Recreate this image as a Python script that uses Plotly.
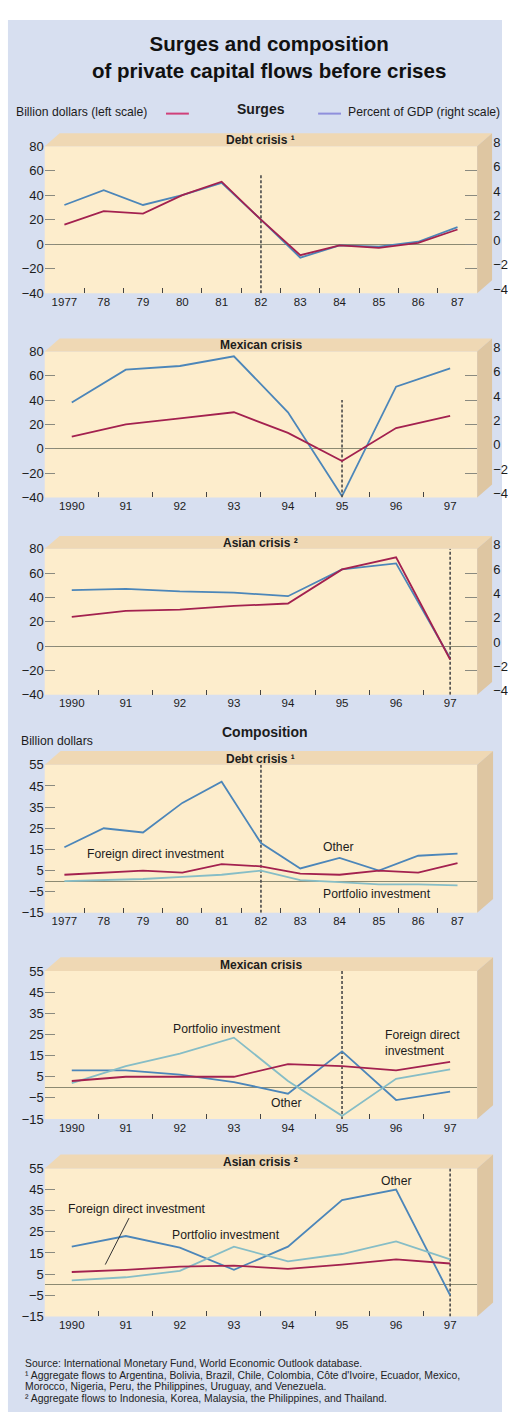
import plotly.graph_objects as go

# ---------------- data ----------------
debt_years = ["1977", "78", "79", "80", "81", "82", "83", "84", "85", "86", "87"]
late_years = ["1990", "91", "92", "93", "94", "95", "96", "97"]

# Surges: billion dollars (left scale) and percent of GDP (right scale)
debt_surge_bn = [16, 27, 25, 40, 51, 20, -9, -1, -3, 1, 12]
debt_surge_pct = [3.2, 4.4, 3.2, 4.0, 5.0, 2.0, -1.1, -0.1, -0.2, 0.2, 1.4]
mex_surge_bn = [10, 20, 25, 30, 13, -10, 17, 27]
mex_surge_pct = [3.8, 6.5, 6.8, 7.6, 3.0, -3.9, 5.1, 6.6]
asia_surge_bn = [24, 29, 30, 33, 35, 63, 73, -11]
asia_surge_pct = [4.6, 4.7, 4.5, 4.4, 4.1, 6.3, 6.8, -1.0]

# Composition: billion dollars
debt_fdi = [3, 4, 5, 4, 8, 7, 3.5, 3, 5, 4, 8.5]
debt_portfolio = [0, 0.5, 1, 2, 3, 5, 0.5, -0.5, -1.5, -1.5, -2]
debt_other = [16, 25, 23, 37, 47, 18, 6, 11, 5, 12, 13]
mex_fdi = [3, 5, 5, 5, 11, 10, 8, 12]
mex_portfolio = [2, 10, 16, 23.5, 3, -13.5, 4, 8.5]
mex_other = [8, 8, 6, 2.5, -3, 17, -6, -2]
asia_fdi = [6, 7, 8.5, 9, 7.5, 9.5, 12, 10]
asia_portfolio = [2, 3.5, 6.5, 18, 11, 14.5, 20.5, 12]
asia_other = [18, 23, 17.5, 7, 18, 40, 45, -5]

# crisis year marked in each panel and the vertical extent of its marker
crisis_years = ["82", "95", "97", "82", "95", "97"]
crisis_extent = [(-40, 57), (-40, 40), (-40, 80), (-15, 55), (-15, 55), (-15, 55)]

surge_bn_ticks = [-40, -20, 0, 20, 40, 60, 80]
surge_pct_ticks = [-4, -2, 0, 2, 4, 6, 8]
comp_ticks = [-15, -5, 5, 15, 25, 35, 45, 55]

# ---------------- styling ----------------
FONT = "Liberation Sans, Arial, sans-serif"
INK = "#1c1c1c"
RED = "#a3214f"
BLUE = "#4c86b9"
TEAL = "#86bdc6"
FACE = "#fdedcc"
TOP = "#efd8b4"
SIDE = "#dec6a2"
PANEL_BG = "#d7dff0"
ZERO = "#8c8a72"
TICK = "#8a8a80"

W, H = 508, 1427
PLOT_L, PLOT_R = 45, 480


def fx(px):
    return px / W


def fy(py):
    return 1 - py / H


def ax_id(i):
    return "" if i == 1 else str(i)


panels = [
    dict(kind="surge", box=(137, 286), depth=(15, 13), cats=debt_years,
         bn=debt_surge_bn, pct=debt_surge_pct, title="Debt crisis \u00b9"),
    dict(kind="surge", box=(345, 493), depth=(15, 13), cats=late_years,
         bn=mex_surge_bn, pct=mex_surge_pct, title="Mexican crisis"),
    dict(kind="surge", box=(545, 693), depth=(15, 13), cats=late_years,
         bn=asia_surge_bn, pct=asia_surge_pct, title="Asian crisis \u00b2"),
    dict(kind="comp", box=(764, 914), depth=(16, 14), cats=debt_years,
         fdi=debt_fdi, portfolio=debt_portfolio, other=debt_other,
         title="Debt crisis \u00b9",
         labels=[("Foreign direct investment", 2.33, 12.7, "center"),
                 ("Other", 6.96, 16, "center"),
                 ("Portfolio investment", 7.95, -6, "center")]),
    dict(kind="comp", box=(973, 1123), depth=(16, 14), cats=late_years,
         fdi=mex_fdi, portfolio=mex_portfolio, other=mex_other,
         title="Mexican crisis",
         labels=[("Portfolio investment", 2.88, 27.6, "center"),
                 ("Foreign direct<br>investment", 5.75, 21, "left"),
                 ("Other", 3.97, -7.5, "center")]),
    dict(kind="comp", box=(1173, 1323), depth=(16, 14), cats=late_years,
         fdi=asia_fdi, portfolio=asia_portfolio, other=asia_other,
         title="Asian crisis \u00b2",
         labels=[("Foreign direct investment", -0.1, 36, "left"),
                 ("Portfolio investment", 2.85, 23.7, "center"),
                 ("Other", 5.99, 49, "center")],
         leader=(1.06, 31.5, 0.62, 9.5)),
]

fig = go.Figure()
layout = {}
shapes = []
annotations = []

# lavender page panel
shapes.append(dict(type="rect", xref="paper", yref="paper", x0=fx(8), x1=fx(505),
                   y0=fy(1420), y1=fy(9), fillcolor=PANEL_BG, line_width=0, layer="below"))

for i, p in enumerate(panels, start=1):
    top, bot = p["box"]
    dx, dy = p["depth"]
    n = len(p["cats"])
    xid, yid = "x" + ax_id(i), "y" + ax_id(i)

    # box faces: front, top and right side
    shapes.append(dict(type="rect", xref="paper", yref="paper", x0=fx(PLOT_L), x1=fx(PLOT_R),
                       y0=fy(bot), y1=fy(top), fillcolor=FACE, line_width=0, layer="below"))
    top_path = "M {:.5f},{:.5f} L {:.5f},{:.5f} L {:.5f},{:.5f} L {:.5f},{:.5f} Z".format(
        fx(PLOT_L), fy(top), fx(PLOT_R), fy(top), fx(PLOT_R + dx), fy(top - dy), fx(PLOT_L + dx), fy(top - dy))
    side_path = "M {:.5f},{:.5f} L {:.5f},{:.5f} L {:.5f},{:.5f} L {:.5f},{:.5f} Z".format(
        fx(PLOT_R), fy(top), fx(PLOT_R + dx), fy(top - dy), fx(PLOT_R + dx), fy(bot - dy), fx(PLOT_R), fy(bot))
    shapes.append(dict(type="path", path=top_path, xref="paper", yref="paper",
                       fillcolor=TOP, line_width=0, layer="below"))
    shapes.append(dict(type="path", path=side_path, xref="paper", yref="paper",
                       fillcolor=SIDE, line_width=0, layer="below"))

    layout["xaxis" + ax_id(i)] = dict(
        domain=[fx(PLOT_L), fx(PLOT_R)], anchor=yid, type="category",
        categoryorder="array", categoryarray=p["cats"], range=[-0.5, n - 0.5],
        tickson="boundaries", ticks="inside", ticklen=5, tickwidth=1, tickcolor="#444",
        showgrid=False, zeroline=False, showline=False,
        tickfont=dict(size=11.5, color=INK), fixedrange=True)

    c0, c1 = crisis_extent[i - 1]
    crisis_line = dict(x=[crisis_years[i - 1]] * 2, y=[c0, c1], xaxis=xid, mode="lines",
                       line=dict(color="#4a4a4a", width=1.6, dash="3px,2px"),
                       showlegend=False, hoverinfo="skip", name="Crisis year")

    if p["kind"] == "surge":
        oid = "y" + str(6 + i)
        # right scale: percent of GDP
        layout["yaxis" + ax_id(i)] = dict(
            domain=[fy(bot), fy(top)], anchor=xid, side="right", range=[-4, 8],
            tickvals=surge_pct_ticks, ticks="inside", ticklen=12, tickcolor=TICK,
            ticklabelstandoff=15, ticklabelshift=-4,
            showgrid=False, showline=False, zeroline=True, zerolinecolor=ZERO, zerolinewidth=1.2,
            tickfont=dict(size=13, color=INK), fixedrange=True)
        # left scale: billion dollars
        layout["yaxis" + str(6 + i)] = dict(
            overlaying=yid, anchor=xid, side="left", range=[-40, 80],
            tickvals=surge_bn_ticks, ticks="inside", ticklen=10, tickcolor=TICK,
            showgrid=False, showline=False, zeroline=False,
            tickfont=dict(size=13, color=INK), fixedrange=True)
        fig.add_trace(go.Scatter(x=p["cats"], y=p["pct"], xaxis=xid, yaxis=yid, mode="lines",
                                 line=dict(color=BLUE, width=1.8), showlegend=False,
                                 name="Percent of GDP"))
        fig.add_trace(go.Scatter(yaxis=oid, **crisis_line))
        fig.add_trace(go.Scatter(x=p["cats"], y=p["bn"], xaxis=xid, yaxis=oid, mode="lines",
                                 line=dict(color=RED, width=1.8), showlegend=False,
                                 name="Billion dollars"))
    else:
        layout["yaxis" + ax_id(i)] = dict(
            domain=[fy(bot), fy(top)], anchor=xid, range=[-15, 55],
            tickvals=comp_ticks, ticks="inside", ticklen=10, tickcolor=TICK,
            showgrid=False, showline=False, zeroline=True, zerolinecolor=ZERO, zerolinewidth=1.2,
            tickfont=dict(size=13, color=INK), fixedrange=True)
        fig.add_trace(go.Scatter(yaxis=yid, **crisis_line))
        fig.add_trace(go.Scatter(x=p["cats"], y=p["other"], xaxis=xid, yaxis=yid, mode="lines",
                                 line=dict(color=BLUE, width=1.8), showlegend=False, name="Other"))
        fig.add_trace(go.Scatter(x=p["cats"], y=p["portfolio"], xaxis=xid, yaxis=yid, mode="lines",
                                 line=dict(color=TEAL, width=1.8), showlegend=False,
                                 name="Portfolio investment"))
        fig.add_trace(go.Scatter(x=p["cats"], y=p["fdi"], xaxis=xid, yaxis=yid, mode="lines",
                                 line=dict(color=RED, width=1.8), showlegend=False,
                                 name="Foreign direct investment"))
        for text, lx, ly, align in p["labels"]:
            annotations.append(dict(text=text, x=lx, y=ly, xref=xid, yref=yid, showarrow=False,
                                    xanchor=align, yanchor="middle", align="left",
                                    font=dict(size=12.2, color=INK)))
        if "leader" in p:
            x0, y0, x1, y1 = p["leader"]
            shapes.append(dict(type="line", xref=xid, yref=yid, x0=x0, y0=y0, x1=x1, y1=y1,
                               line=dict(color="#333", width=1)))

    # panel heading on the top face
    annotations.append(dict(text="<b>" + p["title"] + "</b>", x=fx((PLOT_L + PLOT_R) / 2),
                            y=fy(top - 6), xref="paper", yref="paper", showarrow=False,
                            xanchor="center", yanchor="middle", font=dict(size=12, color=INK)))

# ---------------- headings, legend, notes ----------------
annotations.append(dict(text="<b>Surges and composition<br>of private capital flows before crises</b>",
                        x=fx(271), y=fy(46.5), xref="paper", yref="paper", showarrow=False,
                        xanchor="center", yanchor="middle", align="center",
                        font=dict(size=20.5, color="#111")))
annotations.append(dict(text="<b>Surges</b>", x=fx(263), y=fy(99), xref="paper", yref="paper",
                        showarrow=False, xanchor="center", yanchor="middle",
                        font=dict(size=14, color=INK)))
annotations.append(dict(text="Billion dollars (left scale)", x=fx(14), y=fy(102), xref="paper",
                        yref="paper", showarrow=False, xanchor="left", yanchor="middle",
                        font=dict(size=12.2, color=INK)))
annotations.append(dict(text="Percent of GDP (right scale)", x=fx(348), y=fy(102), xref="paper",
                        yref="paper", showarrow=False, xanchor="left", yanchor="middle",
                        font=dict(size=12.2, color=INK)))
shapes.append(dict(type="line", xref="paper", yref="paper", x0=fx(167), x1=fx(190),
                   y0=fy(104), y1=fy(104), line=dict(color="#d0407a", width=2)))
shapes.append(dict(type="line", xref="paper", yref="paper", x0=fx(320), x1=fx(343),
                   y0=fy(104), y1=fy(104), line=dict(color="#8f8fdc", width=2)))

annotations.append(dict(text="<b>Composition</b>", x=fx(267), y=fy(731), xref="paper", yref="paper",
                        showarrow=False, xanchor="center", yanchor="middle",
                        font=dict(size=14, color=INK)))
annotations.append(dict(text="Billion dollars", x=fx(19), y=fy(740), xref="paper", yref="paper",
                        showarrow=False, xanchor="left", yanchor="middle",
                        font=dict(size=12.2, color=INK)))

notes = [
    ("Source: International Monetary Fund, World Economic Outlook database.", 1371),
    ("\u00b9 Aggregate flows to Argentina, Bolivia, Brazil, Chile, Colombia, Côte d'Ivoire, Ecuador, Mexico,", 1383),
    ("Morocco, Nigeria, Peru, the Philippines, Uruguay, and Venezuela.", 1394.5),
    ("\u00b2 Aggregate flows to Indonesia, Korea, Malaysia, the Philippines, and Thailand.", 1406),
]
for text, ypx in notes:
    annotations.append(dict(text=text, x=fx(23), y=fy(ypx), xref="paper", yref="paper",
                            showarrow=False, xanchor="left", yanchor="middle",
                            font=dict(size=10.4, color="#222")))

fig.update_layout(
    width=W, height=H, autosize=False,
    margin=dict(l=0, r=0, t=0, b=0),
    paper_bgcolor="white", plot_bgcolor="rgba(0,0,0,0)",
    font=dict(family=FONT, color=INK),
    showlegend=False,
    shapes=shapes, annotations=annotations,
    **layout,
)

fig.write_html("out.html", config={"displayModeBar": False})
